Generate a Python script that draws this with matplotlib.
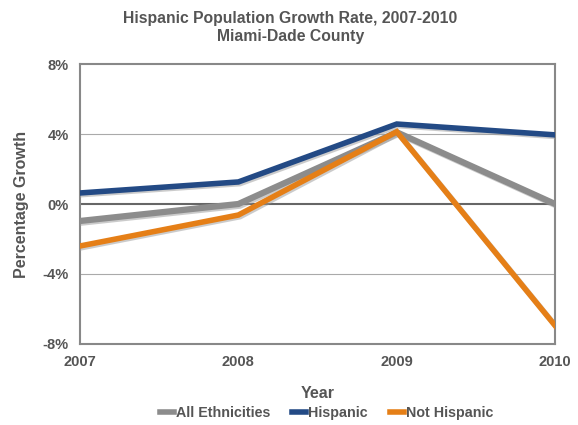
import numpy as np
import matplotlib.pyplot as plt
import matplotlib.patheffects as pe

plt.rcParams['font.family'] = ['Liberation Sans', 'DejaVu Sans']
plt.rcParams['font.weight'] = 'bold'

# growth rates (%) by year
years = [2007, 2008, 2009, 2010]
all_ethnicities = [-0.97, 0.0, 4.1, 0.0]
hispanic = [0.63, 1.26, 4.57, 3.95]
not_hispanic = [-2.4, -0.63, 4.13, -6.95]

yticks = [-8, -4, 0, 4, 8]
ytick_labels = ['-8%', '-4%', '0%', '4%', '8%']

text_col = '#555555'
shadow = [pe.SimpleLineShadow(offset=(1.2, -1.2), shadow_color='#999999', alpha=0.5), pe.Normal()]

fig = plt.figure(figsize=(5.78, 4.25), dpi=100)
ax = fig.add_axes([0.1384, 0.1906, 0.822, 0.6588])

for v in [-4, 4]:
    ax.axhline(v, color='#aaaaaa', lw=0.8, zorder=1)
ax.axhline(0, color='#666666', lw=1.5, zorder=1)

ax.plot(years, all_ethnicities, color='#8c8c8c', lw=4.5, label='All Ethnicities',
        path_effects=shadow, solid_joinstyle='miter', zorder=3)
ax.plot(years, hispanic, color='#234a85', lw=4, label='Hispanic',
        path_effects=shadow, solid_joinstyle='miter', zorder=4)
ax.plot(years, not_hispanic, color='#e57f17', lw=4, label='Not Hispanic',
        path_effects=shadow, solid_joinstyle='miter', zorder=5)

ax.set_xlim(2007, 2010)
ax.set_ylim(-8, 8)
ax.set_xticks(years)
ax.set_xticklabels([str(y) for y in years])
ax.set_yticks(yticks)
ax.set_yticklabels(ytick_labels)
ax.tick_params(length=0, labelsize=10.5, colors=text_col, pad=8)
for lab in ax.get_xticklabels() + ax.get_yticklabels():
    lab.set_fontweight('bold')

for s in ax.spines.values():
    s.set_color('#888888')
    s.set_linewidth(1.5)

ax.set_xlabel('Year', fontsize=11.5, color=text_col, fontweight='bold', labelpad=12)
ax.set_ylabel('Percentage Growth', fontsize=11.5, color=text_col, fontweight='bold', labelpad=10)

fig.suptitle('Hispanic Population Growth Rate, 2007-2010\nMiami-Dade County',
             fontsize=11.3, color=text_col, fontweight='bold', y=0.975, x=0.502, linespacing=1.3)

leg = fig.legend(loc='center', bbox_to_anchor=(0.565, 0.028), ncol=3, frameon=False,
                 handlelength=1.0, handletextpad=0.15, columnspacing=1.5,
                 prop={'size': 10.3, 'weight': 'bold'})
for t in leg.get_texts():
    t.set_color(text_col)
for h in leg.get_lines():
    h.set_path_effects([])
    h.set_linewidth(4)

plt.savefig('out.png', dpi=100)
